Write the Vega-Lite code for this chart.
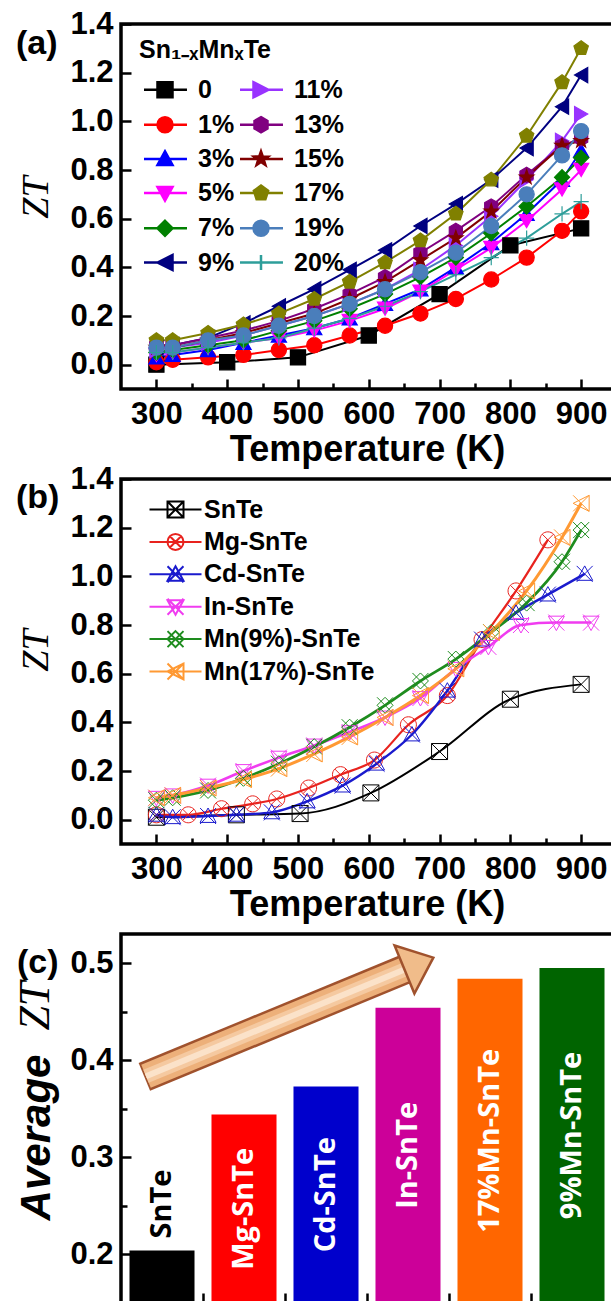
{
"$schema":"https://vega.github.io/schema/vega-lite/v6.json",
"background":"white",
"padding":{"left":12,"top":6,"right":0,"bottom":0},
"bounds":"flush",
"spacing":90,
"resolve":{"scale":{"color":"independent","fill":"independent","stroke":"independent","shape":"independent","strokeWidth":"independent"}},
"config":{
 "view":{"stroke":"black","strokeWidth":3.5},
 "axis":{"domain":false,"grid":false,"labelFont":"Liberation Sans","labelFontWeight":"bold","labelFontSize":31,"labelColor":"black","tickColor":"black","tickWidth":2.5,"labelFlush":false,"labelOverlap":false,"titleColor":"black"},
 "text":{"color":"black"}
},
"vconcat":[
{
 "width":492,"height":365,
 "data":{"values":[
{"s":"0","T":300,"ZT":0},{"s":"0","T":400,"ZT":0.01},{"s":"0","T":500,"ZT":0.03},{"s":"0","T":600,"ZT":0.12},{"s":"0","T":700,"ZT":0.29},{"s":"0","T":800,"ZT":0.49},{"s":"0","T":900,"ZT":0.56},
{"s":"1%","T":300,"ZT":0.01},{"s":"1%","T":323,"ZT":0.02},{"s":"1%","T":373,"ZT":0.03},{"s":"1%","T":423,"ZT":0.04},{"s":"1%","T":473,"ZT":0.06},{"s":"1%","T":523,"ZT":0.08},{"s":"1%","T":573,"ZT":0.12},{"s":"1%","T":623,"ZT":0.16},{"s":"1%","T":673,"ZT":0.21},{"s":"1%","T":723,"ZT":0.27},{"s":"1%","T":773,"ZT":0.35},{"s":"1%","T":823,"ZT":0.44},{"s":"1%","T":873,"ZT":0.55},{"s":"1%","T":900,"ZT":0.63},
{"s":"3%","T":300,"ZT":0.03},{"s":"3%","T":323,"ZT":0.04},{"s":"3%","T":373,"ZT":0.06},{"s":"3%","T":423,"ZT":0.09},{"s":"3%","T":473,"ZT":0.12},{"s":"3%","T":523,"ZT":0.15},{"s":"3%","T":573,"ZT":0.19},{"s":"3%","T":623,"ZT":0.25},{"s":"3%","T":673,"ZT":0.31},{"s":"3%","T":723,"ZT":0.4},{"s":"3%","T":773,"ZT":0.5},{"s":"3%","T":823,"ZT":0.62},{"s":"3%","T":873,"ZT":0.76},{"s":"3%","T":900,"ZT":0.88},
{"s":"5%","T":300,"ZT":0.04},{"s":"5%","T":323,"ZT":0.05},{"s":"5%","T":373,"ZT":0.07},{"s":"5%","T":423,"ZT":0.09},{"s":"5%","T":473,"ZT":0.11},{"s":"5%","T":523,"ZT":0.14},{"s":"5%","T":573,"ZT":0.18},{"s":"5%","T":623,"ZT":0.23},{"s":"5%","T":673,"ZT":0.3},{"s":"5%","T":723,"ZT":0.39},{"s":"5%","T":773,"ZT":0.48},{"s":"5%","T":823,"ZT":0.59},{"s":"5%","T":873,"ZT":0.72},{"s":"5%","T":900,"ZT":0.8},
{"s":"7%","T":300,"ZT":0.05},{"s":"7%","T":323,"ZT":0.06},{"s":"7%","T":373,"ZT":0.08},{"s":"7%","T":423,"ZT":0.1},{"s":"7%","T":473,"ZT":0.14},{"s":"7%","T":523,"ZT":0.18},{"s":"7%","T":573,"ZT":0.23},{"s":"7%","T":623,"ZT":0.29},{"s":"7%","T":673,"ZT":0.36},{"s":"7%","T":723,"ZT":0.44},{"s":"7%","T":773,"ZT":0.54},{"s":"7%","T":823,"ZT":0.65},{"s":"7%","T":873,"ZT":0.77},{"s":"7%","T":900,"ZT":0.85},
{"s":"9%","T":300,"ZT":0.07},{"s":"9%","T":323,"ZT":0.08},{"s":"9%","T":373,"ZT":0.11},{"s":"9%","T":423,"ZT":0.17},{"s":"9%","T":473,"ZT":0.24},{"s":"9%","T":523,"ZT":0.31},{"s":"9%","T":573,"ZT":0.39},{"s":"9%","T":623,"ZT":0.47},{"s":"9%","T":673,"ZT":0.57},{"s":"9%","T":723,"ZT":0.66},{"s":"9%","T":773,"ZT":0.76},{"s":"9%","T":823,"ZT":0.89},{"s":"9%","T":873,"ZT":1.06},{"s":"9%","T":900,"ZT":1.19},
{"s":"11%","T":300,"ZT":0.06},{"s":"11%","T":323,"ZT":0.07},{"s":"11%","T":373,"ZT":0.09},{"s":"11%","T":423,"ZT":0.12},{"s":"11%","T":473,"ZT":0.16},{"s":"11%","T":523,"ZT":0.2},{"s":"11%","T":573,"ZT":0.25},{"s":"11%","T":623,"ZT":0.31},{"s":"11%","T":673,"ZT":0.39},{"s":"11%","T":723,"ZT":0.49},{"s":"11%","T":773,"ZT":0.61},{"s":"11%","T":823,"ZT":0.76},{"s":"11%","T":873,"ZT":0.92},{"s":"11%","T":900,"ZT":1.03},
{"s":"13%","T":300,"ZT":0.08},{"s":"13%","T":323,"ZT":0.08},{"s":"13%","T":373,"ZT":0.11},{"s":"13%","T":423,"ZT":0.14},{"s":"13%","T":473,"ZT":0.18},{"s":"13%","T":523,"ZT":0.23},{"s":"13%","T":573,"ZT":0.29},{"s":"13%","T":623,"ZT":0.36},{"s":"13%","T":673,"ZT":0.46},{"s":"13%","T":723,"ZT":0.55},{"s":"13%","T":773,"ZT":0.65},{"s":"13%","T":823,"ZT":0.78},{"s":"13%","T":873,"ZT":0.9},{"s":"13%","T":900,"ZT":0.93},
{"s":"15%","T":300,"ZT":0.07},{"s":"15%","T":323,"ZT":0.07},{"s":"15%","T":373,"ZT":0.1},{"s":"15%","T":423,"ZT":0.13},{"s":"15%","T":473,"ZT":0.17},{"s":"15%","T":523,"ZT":0.21},{"s":"15%","T":573,"ZT":0.27},{"s":"15%","T":623,"ZT":0.34},{"s":"15%","T":673,"ZT":0.43},{"s":"15%","T":723,"ZT":0.52},{"s":"15%","T":773,"ZT":0.63},{"s":"15%","T":823,"ZT":0.77},{"s":"15%","T":873,"ZT":0.9},{"s":"15%","T":900,"ZT":0.92},
{"s":"17%","T":300,"ZT":0.1},{"s":"17%","T":323,"ZT":0.1},{"s":"17%","T":373,"ZT":0.13},{"s":"17%","T":423,"ZT":0.165},{"s":"17%","T":473,"ZT":0.21},{"s":"17%","T":523,"ZT":0.27},{"s":"17%","T":573,"ZT":0.34},{"s":"17%","T":623,"ZT":0.42},{"s":"17%","T":673,"ZT":0.51},{"s":"17%","T":723,"ZT":0.62},{"s":"17%","T":773,"ZT":0.76},{"s":"17%","T":823,"ZT":0.94},{"s":"17%","T":873,"ZT":1.16},{"s":"17%","T":900,"ZT":1.3},
{"s":"19%","T":300,"ZT":0.07},{"s":"19%","T":323,"ZT":0.07},{"s":"19%","T":373,"ZT":0.1},{"s":"19%","T":423,"ZT":0.12},{"s":"19%","T":473,"ZT":0.16},{"s":"19%","T":523,"ZT":0.2},{"s":"19%","T":573,"ZT":0.25},{"s":"19%","T":623,"ZT":0.31},{"s":"19%","T":673,"ZT":0.38},{"s":"19%","T":723,"ZT":0.46},{"s":"19%","T":773,"ZT":0.57},{"s":"19%","T":823,"ZT":0.7},{"s":"19%","T":873,"ZT":0.86},{"s":"19%","T":900,"ZT":0.96},
{"s":"20%","T":300,"ZT":0.05},{"s":"20%","T":323,"ZT":0.05},{"s":"20%","T":373,"ZT":0.07},{"s":"20%","T":423,"ZT":0.09},{"s":"20%","T":473,"ZT":0.11},{"s":"20%","T":523,"ZT":0.15},{"s":"20%","T":573,"ZT":0.19},{"s":"20%","T":623,"ZT":0.24},{"s":"20%","T":673,"ZT":0.3},{"s":"20%","T":723,"ZT":0.37},{"s":"20%","T":773,"ZT":0.44},{"s":"20%","T":823,"ZT":0.52},{"s":"20%","T":873,"ZT":0.62},{"s":"20%","T":900,"ZT":0.67}
 ]},
 "layer":[
  {"mark":{"type":"line","strokeWidth":2},
   "encoding":{
    "x":{"field":"T","type":"quantitative","scale":{"domain":[250,945],"nice":false,"zero":false},
     "axis":{"values":[300,350,400,450,500,550,600,650,700,750,800,850,900],"format":"d","labelExpr":"datum.value % 100 === 0 ? datum.label : ''","tickSize":{"condition":{"test":"datum.value % 100 === 0","value":-10},"value":-6},"labelPadding":20,"labelBaseline":"top","title":"Temperature (K)","titleFont":"Liberation Sans","titleFontWeight":"bold","titleFontSize":36,"titleX":246,"titleY":60,"titleAlign":"center","titleBaseline":"middle"}},
    "y":{"field":"ZT","type":"quantitative","scale":{"domain":[-0.1,1.4],"nice":false,"zero":false},
     "axis":{"values":[0,0.1,0.2,0.3,0.4,0.5,0.6,0.7,0.8,0.9,1,1.1,1.2,1.3,1.4],"labelExpr":"round(datum.value*10) % 2 === 0 ? format(datum.value,'.1f') : ''","tickSize":{"condition":{"test":"round(datum.value*10) % 2 === 0","value":-10},"value":-6},"labelPadding":18,"title":"ZT","titleFont":"Liberation Serif","titleFontStyle":"italic","titleFontWeight":"normal","titleFontSize":38,"titleX":-85,"titleY":173,"titleAngle":270,"titleAlign":"center","titleBaseline":"middle"}},
    "color":{"field":"s","type":"nominal","scale":{"domain":["0","1%","3%","5%","7%","9%","11%","13%","15%","17%","19%","20%"],"range":["#000000","#FF0000","#0000FF","#FF00FF","#008000","#000080","#9933FF","#800080","#800000","#808000","#4A7EBB","#2E9E9A"]},"legend":null}
   }},
  {"mark":{"type":"point","filled":true,"size":230,"opacity":1,"strokeWidth":1.2},
   "encoding":{
    "x":{"field":"T","type":"quantitative"},
    "y":{"field":"ZT","type":"quantitative"},
    "color":{"field":"s","type":"nominal","legend":null},
    "stroke":{"field":"s","type":"nominal","scale":{"domain":["0","1%","3%","5%","7%","9%","11%","13%","15%","17%","19%","20%"],"range":["#000000","#FF0000","#0000FF","#FF00FF","#008000","#000080","#9933FF","#800080","#800000","#808000","#4A7EBB","#2E9E9A"]},"legend":null},
    "shape":{"field":"s","type":"nominal","scale":{"domain":["0","1%","3%","5%","7%","9%","11%","13%","15%","17%","19%","20%"],"range":["square","circle","triangle-up","triangle-down","diamond","triangle-left","triangle-right","M0,-1L0.866,-0.5L0.866,0.5L0,1L-0.866,0.5L-0.866,-0.5Z","M0,-1L0.235,-0.324L0.951,-0.309L0.38,0.124L0.588,0.809L0,0.4L-0.588,0.809L-0.38,0.124L-0.951,-0.309L-0.235,-0.324Z","M0,-1L0.951,-0.309L0.588,0.809L-0.588,0.809L-0.951,-0.309Z","circle","M-1,0H1M0,-1V1"]},"legend":null}
   }},
  {"transform":[{"filter":"false"}],
   "mark":{"type":"point","filled":true,"opacity":1},
   "encoding":{
    "x":{"field":"T","type":"quantitative"},
    "y":{"field":"ZT","type":"quantitative"},
    "fill":{"field":"s","type":"nominal","scale":{"domain":["0","1%","3%","5%","7%","9%","11%","13%","15%","17%","19%","20%"],"range":["#000000","#FF0000","#0000FF","#FF00FF","#008000","#000080","#9933FF","#800080","#800000","#808000","#4A7EBB","#2E9E9A"]},
     "legend":{"title":"Sn₁₋ₓMnₓTe","orient":"none","legendX":18,"legendY":14,"columns":2,"symbolSize":225,"symbolStrokeWidth":2.5,"labelFont":"Liberation Sans","labelFontWeight":"bold","labelFontSize":25,"labelColor":"black","labelOffset":34,"labelLimit":300,"titleFont":"Liberation Sans","titleFontWeight":"bold","titleFontSize":25,"titleColor":"black","titlePadding":14,"rowPadding":8.2,"columnPadding":-4,"padding":0}},
    "stroke":{"field":"s","type":"nominal","scale":{"domain":["0","1%","3%","5%","7%","9%","11%","13%","15%","17%","19%","20%"],"range":["#000000","#FF0000","#0000FF","#FF00FF","#008000","#000080","#9933FF","#800080","#800000","#808000","#4A7EBB","#2E9E9A"]},
     "legend":{"title":"Sn₁₋ₓMnₓTe","orient":"none","legendX":18,"legendY":14,"columns":2,"symbolSize":225,"symbolStrokeWidth":2.5,"labelFont":"Liberation Sans","labelFontWeight":"bold","labelFontSize":25,"labelColor":"black","labelOffset":34,"labelLimit":300,"titleFont":"Liberation Sans","titleFontWeight":"bold","titleFontSize":25,"titleColor":"black","titlePadding":14,"rowPadding":8.2,"columnPadding":-4,"padding":0}},
    "shape":{"field":"s","type":"nominal","scale":{"domain":["0","1%","3%","5%","7%","9%","11%","13%","15%","17%","19%","20%"],"range":["M-1,0H4.73M0.8,-1H2.8V1H0.8Z","M-1,0H4.73M2.8,0A1,1,0,1,1,0.8,0A1,1,0,1,1,2.8,0Z","M-1,0H4.73M1.8,-1L2.8,0.8H0.8Z","M-1,0H4.73M1.8,1L2.8,-0.8H0.8Z","M-1,0H4.73M1.8,-1L2.8,0L1.8,1L0.8,0Z","M-1,0H4.73M0.8,0L2.8,-1V1Z","M-1,0H4.73M2.8,0L0.8,-1V1Z","M-1,0H4.73M1.8,-1L2.666,-0.5V0.5L1.8,1L0.934,0.5V-0.5Z","M-1,0H4.73M1.8,-1L2.035,-0.324L2.751,-0.309L2.18,0.124L2.388,0.809L1.8,0.4L1.212,0.809L1.42,0.124L0.849,-0.309L1.565,-0.324Z","M-1,0H4.73M1.8,-1L2.751,-0.309L2.388,0.809L1.212,0.809L0.849,-0.309Z","M-1,0H4.73M2.8,0A1,1,0,1,1,0.8,0A1,1,0,1,1,2.8,0Z","M-1,0H4.73M1.8,-1V1"]},
     "legend":{"title":"Sn₁₋ₓMnₓTe","orient":"none","legendX":18,"legendY":14,"columns":2,"symbolSize":225,"symbolStrokeWidth":2.5,"labelFont":"Liberation Sans","labelFontWeight":"bold","labelFontSize":25,"labelColor":"black","labelOffset":34,"labelLimit":300,"titleFont":"Liberation Sans","titleFontWeight":"bold","titleFontSize":25,"titleColor":"black","titlePadding":14,"rowPadding":8.2,"columnPadding":-4,"padding":0}}
   }},
  {"data":{"values":[{}]},
   "mark":{"type":"text","text":"(a)","align":"left","baseline":"middle","dx":-105,"font":"Liberation Sans","fontWeight":"bold","fontSize":34,"color":"black"},
   "encoding":{"x":{"datum":250,"type":"quantitative"},"y":{"datum":1.317,"type":"quantitative"}}}
 ],
 "resolve":{"scale":{"shape":"independent","stroke":"independent","fill":"independent"}}
},
{
 "width":492,"height":365,
 "data":{"values":[
{"s":"SnTe","T":300,"ZT":0.01},{"s":"SnTe","T":413,"ZT":0.02},{"s":"SnTe","T":503,"ZT":0.025},{"s":"SnTe","T":603,"ZT":0.11},{"s":"SnTe","T":700,"ZT":0.28},{"s":"SnTe","T":800,"ZT":0.495},{"s":"SnTe","T":900,"ZT":0.556},
{"s":"Mg-SnTe","T":300,"ZT":0.02},{"s":"Mg-SnTe","T":345,"ZT":0.02},{"s":"Mg-SnTe","T":392,"ZT":0.045},{"s":"Mg-SnTe","T":436,"ZT":0.065},{"s":"Mg-SnTe","T":470,"ZT":0.085},{"s":"Mg-SnTe","T":515,"ZT":0.13},{"s":"Mg-SnTe","T":560,"ZT":0.185},{"s":"Mg-SnTe","T":608,"ZT":0.245},{"s":"Mg-SnTe","T":656,"ZT":0.39},{"s":"Mg-SnTe","T":711,"ZT":0.51},{"s":"Mg-SnTe","T":760,"ZT":0.74},{"s":"Mg-SnTe","T":808,"ZT":0.94},{"s":"Mg-SnTe","T":853,"ZT":1.15},
{"s":"Cd-SnTe","T":300,"ZT":0.02},{"s":"Cd-SnTe","T":323,"ZT":0.01},{"s":"Cd-SnTe","T":373,"ZT":0.015},{"s":"Cd-SnTe","T":413,"ZT":0.02},{"s":"Cd-SnTe","T":463,"ZT":0.03},{"s":"Cd-SnTe","T":513,"ZT":0.075},{"s":"Cd-SnTe","T":563,"ZT":0.14},{"s":"Cd-SnTe","T":611,"ZT":0.23},{"s":"Cd-SnTe","T":661,"ZT":0.35},{"s":"Cd-SnTe","T":711,"ZT":0.53},{"s":"Cd-SnTe","T":760,"ZT":0.74},{"s":"Cd-SnTe","T":808,"ZT":0.85},{"s":"Cd-SnTe","T":853,"ZT":0.925},{"s":"Cd-SnTe","T":905,"ZT":1.01},
{"s":"In-SnTe","T":300,"ZT":0.09},{"s":"In-SnTe","T":323,"ZT":0.1},{"s":"In-SnTe","T":373,"ZT":0.14},{"s":"In-SnTe","T":423,"ZT":0.2},{"s":"In-SnTe","T":473,"ZT":0.255},{"s":"In-SnTe","T":523,"ZT":0.305},{"s":"In-SnTe","T":573,"ZT":0.36},{"s":"In-SnTe","T":623,"ZT":0.42},{"s":"In-SnTe","T":673,"ZT":0.5},{"s":"In-SnTe","T":723,"ZT":0.62},{"s":"In-SnTe","T":769,"ZT":0.71},{"s":"In-SnTe","T":815,"ZT":0.8},{"s":"In-SnTe","T":865,"ZT":0.81},{"s":"In-SnTe","T":914,"ZT":0.81},
{"s":"Mn(9%)-SnTe","T":300,"ZT":0.08},{"s":"Mn(9%)-SnTe","T":323,"ZT":0.09},{"s":"Mn(9%)-SnTe","T":373,"ZT":0.12},{"s":"Mn(9%)-SnTe","T":423,"ZT":0.17},{"s":"Mn(9%)-SnTe","T":473,"ZT":0.23},{"s":"Mn(9%)-SnTe","T":523,"ZT":0.3},{"s":"Mn(9%)-SnTe","T":573,"ZT":0.38},{"s":"Mn(9%)-SnTe","T":623,"ZT":0.47},{"s":"Mn(9%)-SnTe","T":673,"ZT":0.57},{"s":"Mn(9%)-SnTe","T":723,"ZT":0.66},{"s":"Mn(9%)-SnTe","T":773,"ZT":0.77},{"s":"Mn(9%)-SnTe","T":823,"ZT":0.89},{"s":"Mn(9%)-SnTe","T":873,"ZT":1.06},{"s":"Mn(9%)-SnTe","T":900,"ZT":1.19},
{"s":"Mn(17%)-SnTe","T":300,"ZT":0.09},{"s":"Mn(17%)-SnTe","T":323,"ZT":0.1},{"s":"Mn(17%)-SnTe","T":373,"ZT":0.13},{"s":"Mn(17%)-SnTe","T":423,"ZT":0.165},{"s":"Mn(17%)-SnTe","T":473,"ZT":0.21},{"s":"Mn(17%)-SnTe","T":523,"ZT":0.27},{"s":"Mn(17%)-SnTe","T":573,"ZT":0.34},{"s":"Mn(17%)-SnTe","T":623,"ZT":0.42},{"s":"Mn(17%)-SnTe","T":673,"ZT":0.51},{"s":"Mn(17%)-SnTe","T":723,"ZT":0.62},{"s":"Mn(17%)-SnTe","T":773,"ZT":0.77},{"s":"Mn(17%)-SnTe","T":823,"ZT":0.94},{"s":"Mn(17%)-SnTe","T":873,"ZT":1.16},{"s":"Mn(17%)-SnTe","T":900,"ZT":1.3}
 ]},
 "layer":[
  {"mark":{"type":"line","interpolate":"monotone"},
   "encoding":{
    "x":{"field":"T","type":"quantitative","scale":{"domain":[250,945],"nice":false,"zero":false},
     "axis":{"values":[300,350,400,450,500,550,600,650,700,750,800,850,900],"format":"d","labelExpr":"datum.value % 100 === 0 ? datum.label : ''","tickSize":{"condition":{"test":"datum.value % 100 === 0","value":-10},"value":-6},"labelPadding":20,"labelBaseline":"top","title":"Temperature (K)","titleFont":"Liberation Sans","titleFontWeight":"bold","titleFontSize":36,"titleX":246,"titleY":60,"titleAlign":"center","titleBaseline":"middle"}},
    "y":{"field":"ZT","type":"quantitative","scale":{"domain":[-0.1,1.4],"nice":false,"zero":false},
     "axis":{"values":[0,0.1,0.2,0.3,0.4,0.5,0.6,0.7,0.8,0.9,1,1.1,1.2,1.3,1.4],"labelExpr":"round(datum.value*10) % 2 === 0 ? format(datum.value,'.1f') : ''","tickSize":{"condition":{"test":"round(datum.value*10) % 2 === 0","value":-10},"value":-6},"labelPadding":18,"title":"ZT","titleFont":"Liberation Serif","titleFontStyle":"italic","titleFontWeight":"normal","titleFontSize":38,"titleX":-85,"titleY":171,"titleAngle":270,"titleAlign":"center","titleBaseline":"middle"}},
    "color":{"field":"s","type":"nominal","scale":{"domain":["SnTe","Mg-SnTe","Cd-SnTe","In-SnTe","Mn(9%)-SnTe","Mn(17%)-SnTe"],"range":["#000000","#E8231E","#1A1ACD","#F03CF0","#1E8C1E","#FF9933"]},"legend":null},
    "strokeWidth":{"field":"s","type":"nominal","scale":{"domain":["SnTe","Mg-SnTe","Cd-SnTe","In-SnTe","Mn(9%)-SnTe","Mn(17%)-SnTe"],"range":[2,3,3,3,3,3]},"legend":null}
   }},
  {"mark":{"type":"point","filled":false,"size":256,"opacity":1,"strokeWidth":1},
   "encoding":{
    "x":{"field":"T","type":"quantitative"},
    "y":{"field":"ZT","type":"quantitative"},
    "color":{"field":"s","type":"nominal","legend":null},
    "shape":{"field":"s","type":"nominal","scale":{"domain":["SnTe","Mg-SnTe","Cd-SnTe","In-SnTe","Mn(9%)-SnTe","Mn(17%)-SnTe"],"range":["M-1,-1H1V1H-1ZM-1,-1L1,1M1,-1L-1,1","M1,0A1,1,0,1,1,-1,0A1,1,0,1,1,1,0ZM-0.7,-0.7L0.7,0.7M0.7,-0.7L-0.7,0.7","M0,-1L1,0.8H-1ZM-1,-1L1,1M1,-1L-1,1","M0,1L1,-0.8H-1ZM-1,-1L1,1M1,-1L-1,1","M0,-1L1,0L0,1L-1,0ZM-1,-1L1,1M1,-1L-1,1","M-1,0L1,-1V1ZM-1,-1L1,1M1,-1L-1,1"]},"legend":null}
   }},
  {"transform":[{"filter":"false"}],
   "mark":{"type":"point","filled":false,"opacity":1},
   "encoding":{
    "x":{"field":"T","type":"quantitative"},
    "y":{"field":"ZT","type":"quantitative"},
    "stroke":{"field":"s","type":"nominal","scale":{"domain":["SnTe","Mg-SnTe","Cd-SnTe","In-SnTe","Mn(9%)-SnTe","Mn(17%)-SnTe"],"range":["#000000","#E8231E","#1A1ACD","#F03CF0","#1E8C1E","#FF9933"]},
     "legend":{"title":null,"orient":"none","legendX":24,"legendY":18,"symbolSize":256,"symbolStrokeWidth":2,"labelFont":"Liberation Sans","labelFontWeight":"bold","labelFontSize":25,"labelColor":"black","labelOffset":34,"labelLimit":300,"rowPadding":6.4,"padding":0}},
    "shape":{"field":"s","type":"nominal","scale":{"domain":["SnTe","Mg-SnTe","Cd-SnTe","In-SnTe","Mn(9%)-SnTe","Mn(17%)-SnTe"],"range":["M-1,0H5.5M1.25,-1H3.25V1H1.25ZM1.25,-1L3.25,1M3.25,-1L1.25,1","M-1,0H5.5M3.25,0A1,1,0,1,1,1.25,0A1,1,0,1,1,3.25,0ZM1.55,-0.7L2.95,0.7M2.95,-0.7L1.55,0.7","M-1,0H5.5M2.25,-1L3.25,0.8H1.25ZM1.25,-1L3.25,1M3.25,-1L1.25,1","M-1,0H5.5M2.25,1L3.25,-0.8H1.25ZM1.25,-1L3.25,1M3.25,-1L1.25,1","M-1,0H5.5M2.25,-1L3.25,0L2.25,1L1.25,0ZM1.25,-1L3.25,1M3.25,-1L1.25,1","M-1,0H5.5M1.25,0L3.25,-1V1ZM1.25,-1L3.25,1M3.25,-1L1.25,1"]},
     "legend":{"title":null,"orient":"none","legendX":24,"legendY":18,"symbolSize":256,"symbolStrokeWidth":2,"labelFont":"Liberation Sans","labelFontWeight":"bold","labelFontSize":25,"labelColor":"black","labelOffset":34,"labelLimit":300,"rowPadding":6.4,"padding":0}}
   }},
  {"data":{"values":[{}]},
   "mark":{"type":"text","text":"(b)","align":"left","baseline":"middle","dx":-105,"font":"Liberation Sans","fontWeight":"bold","fontSize":34,"color":"black"},
   "encoding":{"x":{"datum":250,"type":"quantitative"},"y":{"datum":1.32,"type":"quantitative"}}}
 ],
 "resolve":{"scale":{"shape":"independent","stroke":"independent"}}
},
{
 "width":492,"height":369,
 "layer":[
  {"data":{"values":[{"name":"SnTe","v":0.204},{"name":"Mg-SnTe","v":0.344},{"name":"Cd-SnTe","v":0.373},{"name":"In-SnTe","v":0.454},{"name":"17%Mn-SnTe","v":0.484},{"name":"9%Mn-SnTe","v":0.495}]},
   "layer":[
    {"mark":{"type":"bar"},
     "encoding":{
      "x":{"field":"name","type":"nominal","sort":null,"scale":{"domain":["SnTe","Mg-SnTe","Cd-SnTe","In-SnTe","17%Mn-SnTe","9%Mn-SnTe"],"paddingInner":0.207,"paddingOuter":0.1035},"axis":null},
      "y":{"field":"v","type":"quantitative","scale":{"domain":[0.15,0.53],"nice":false,"zero":false},
       "axis":{"values":[0.2,0.25,0.3,0.35,0.4,0.45,0.5],"labelExpr":"round(datum.value*100) % 10 === 0 ? format(datum.value,'.1f') : ''","tickSize":{"condition":{"test":"round(datum.value*100) % 10 === 0","value":-10},"value":-6},"labelPadding":18,"title":"Average","titleFont":"Liberation Sans","titleFontStyle":"italic","titleFontWeight":"bold","titleFontSize":42,"titleX":-85,"titleY":203,"titleAngle":270,"titleAlign":"center","titleBaseline":"middle"}},
      "y2":{"datum":0.15},
      "color":{"field":"name","type":"nominal","scale":{"domain":["SnTe","Mg-SnTe","Cd-SnTe","In-SnTe","17%Mn-SnTe","9%Mn-SnTe"],"range":["#000000","#FF0000","#0000CC","#CC0099","#FF6600","#006400"]},"legend":null}
     }},
    {"transform":[{"filter":"datum.name === 'SnTe'"}],
     "mark":{"type":"text","angle":270,"align":"left","baseline":"middle","dx":12,"font":"Open Sans","fontWeight":"bold","fontSize":29,"color":"black"},
     "encoding":{
      "x":{"field":"name","type":"nominal","sort":null},
      "y":{"field":"v","type":"quantitative"},
      "text":{"field":"name"}
     }}
   ]},
  {"data":{"values":[{"name":"SnTe","v":0.204},{"name":"Mg-SnTe","v":0.344},{"name":"Cd-SnTe","v":0.373},{"name":"In-SnTe","v":0.454},{"name":"17%Mn-SnTe","v":0.484},{"name":"9%Mn-SnTe","v":0.495}]},
   "transform":[{"filter":"datum.name !== 'SnTe'"}],
   "mark":{"type":"text","angle":270,"align":"center","baseline":"middle","font":"Open Sans","fontWeight":"bold","fontSize":29,"color":"white"},
   "encoding":{
    "x":{"field":"name","type":"nominal","sort":null,"scale":{"domain":["SnTe","Mg-SnTe","Cd-SnTe","In-SnTe","17%Mn-SnTe","9%Mn-SnTe"],"paddingInner":0.207,"paddingOuter":0.1035},"axis":null},
    "y":{"field":"v","type":"quantitative","scale":{"domain":[0.15,0.91],"nice":false,"zero":false},"axis":null},
    "text":{"field":"name"}
   }},
  {"data":{"values":[{}]},
   "layer":[
    {"mark":{"type":"rule","strokeWidth":30,"color":"#A0522D","strokeCap":"butt"},
     "encoding":{
      "x":{"datum":0.785,"type":"quantitative","scale":{"domain":[0.5,6.5],"nice":false,"zero":false},
       "axis":{"orient":"bottom","values":[1,1.5,2,2.5,3,3.5,4,4.5,5,5.5,6],"labels":false,"title":null,"tickSize":{"condition":{"test":"datum.value % 1 !== 0","value":-10},"value":-6}}},
      "y":{"datum":0.3828,"type":"quantitative","scale":{"domain":[0.15,0.53],"nice":false,"zero":false},"axis":null},
      "x2":{"datum":3.96},
      "y2":{"datum":0.4935}
     }},
    {"mark":{"type":"rule","strokeWidth":25,"color":"#EDB07A","strokeCap":"butt"},
     "encoding":{"x":{"datum":0.805,"type":"quantitative"},"y":{"datum":0.3835,"type":"quantitative"},"x2":{"datum":3.96},"y2":{"datum":0.4935}}},
    {"mark":{"type":"rule","strokeWidth":14,"color":"#F5C9A0","strokeCap":"butt"},
     "encoding":{"x":{"datum":0.805,"type":"quantitative"},"y":{"datum":0.3835,"type":"quantitative"},"x2":{"datum":3.96},"y2":{"datum":0.4935}}},
    {"mark":{"type":"rule","strokeWidth":6,"color":"#FBE2C9","strokeCap":"butt"},
     "encoding":{"x":{"datum":0.805,"type":"quantitative"},"y":{"datum":0.3835,"type":"quantitative"},"x2":{"datum":3.96},"y2":{"datum":0.4935}}},
    {"mark":{"type":"point","shape":"M-0.6,-1L0.6,0L-0.6,1Z","size":2704,"angle":-22.4,"filled":true,"fill":"#F0BC8A","stroke":"#A0522D","strokeWidth":2.5,"opacity":1},
     "encoding":{"x":{"datum":4.133,"type":"quantitative"},"y":{"datum":0.4995,"type":"quantitative"}}},
    {"mark":{"type":"text","text":"ZT","angle":270,"align":"center","baseline":"middle","font":"Liberation Serif","fontStyle":"italic","fontSize":44,"color":"black"},
     "encoding":{"x":{"datum":-0.537,"type":"quantitative"},"y":{"datum":0.4557,"type":"quantitative"}}},
    {"mark":{"type":"text","text":"(c)","align":"left","baseline":"middle","dx":-104,"font":"Liberation Sans","fontWeight":"bold","fontSize":34,"color":"black"},
     "encoding":{"x":{"datum":0.5,"type":"quantitative"},"y":{"datum":0.5,"type":"quantitative"}}}
   ]}
 ],
 "resolve":{"scale":{"x":"independent","y":"independent"}}
}
]
}
